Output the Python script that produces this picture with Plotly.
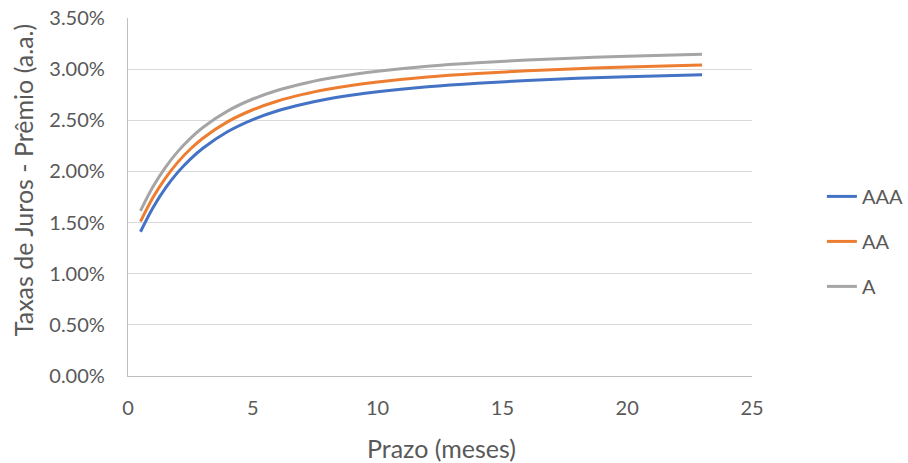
import plotly.graph_objects as go

prazo = [0.5, 1, 1.5, 2, 2.5, 3, 4, 5, 6, 7, 8, 9, 10, 12, 14, 16, 18, 20, 23]
aaa = [1.410, 1.646, 1.837, 1.993, 2.121, 2.227, 2.390, 2.507, 2.593, 2.657, 2.708,
       2.748, 2.780, 2.828, 2.863, 2.889, 2.910, 2.926, 2.945]
aa = [1.510, 1.745, 1.935, 2.091, 2.219, 2.325, 2.487, 2.603, 2.689, 2.753, 2.803,
      2.843, 2.875, 2.924, 2.958, 2.984, 3.005, 3.021, 3.040]
a = [1.615, 1.850, 2.040, 2.196, 2.324, 2.430, 2.592, 2.708, 2.794, 2.858, 2.908,
     2.948, 2.980, 3.029, 3.063, 3.089, 3.110, 3.126, 3.145]

series_names = ["AAA", "AA", "A"]
series_vals = [aaa, aa, a]
colors = ["#4472C4", "#ED7D31", "#A5A5A5"]

x_ticks = [0, 5, 10, 15, 20, 25]
y_ticks = [0, 0.5, 1.0, 1.5, 2.0, 2.5, 3.0, 3.5]
y_labels = ["0.00%", "0.50%", "1.00%", "1.50%", "2.00%", "2.50%", "3.00%", "3.50%"]

x_title = "Prazo (meses)"
y_title = "Taxas de Juros - Prêmio (a.a.)"

FONT = "Lato"
TXT = "#595959"

fig = go.Figure()
for name, vals, col in zip(series_names, series_vals, colors):
    fig.add_trace(go.Scatter(
        x=prazo, y=vals, name=name, mode="lines",
        line=dict(color=col, width=3, shape="spline", smoothing=1.0),
        legendgroup=name,
    ))

fig.update_layout(
    width=908, height=463,
    margin=dict(l=128, r=156, t=18, b=87, autoexpand=False),
    paper_bgcolor="white", plot_bgcolor="white",
    font=dict(family=FONT, size=20, color=TXT),
    showlegend=True,
    legend=dict(
        x=1.112, y=0.376, xanchor="left", yanchor="middle",
        traceorder="grouped", tracegroupgap=16,
        font=dict(family=FONT, size=20, color=TXT),
        itemwidth=30,
        bgcolor="rgba(0,0,0,0)",
    ),
    xaxis=dict(
        range=[0, 25], tickvals=x_ticks, ticktext=[str(v) for v in x_ticks],
        showgrid=False, zeroline=False, automargin=False,
        showline=True, linecolor="#BFBFBF", linewidth=1.3,
        ticks="", ticklabelstandoff=14,
    ),
    yaxis=dict(
        range=[0, 3.5], tickvals=y_ticks, ticktext=y_labels,
        showgrid=True, gridcolor="#D9D9D9", gridwidth=1,
        zeroline=False, automargin=False,
        showline=True, linecolor="#BFBFBF", linewidth=1.3,
        ticks="", ticklabelstandoff=18,
    ),
    annotations=[
        dict(text=x_title, xref="paper", yref="paper", x=0.503, y=-0.2,
             xanchor="center", yanchor="middle", showarrow=False,
             font=dict(family=FONT, size=25, color=TXT)),
        dict(text=y_title, xref="paper", yref="paper", x=0, xshift=-105, y=0.547,
             xanchor="center", yanchor="middle", showarrow=False, textangle=-90,
             font=dict(family=FONT, size=25, color=TXT)),
    ],
)

fig.write_html(
    "out.html",
    config={"displayModeBar": False},
    post_script="document.body.style.margin='0';document.body.style.overflow='hidden';",
)
